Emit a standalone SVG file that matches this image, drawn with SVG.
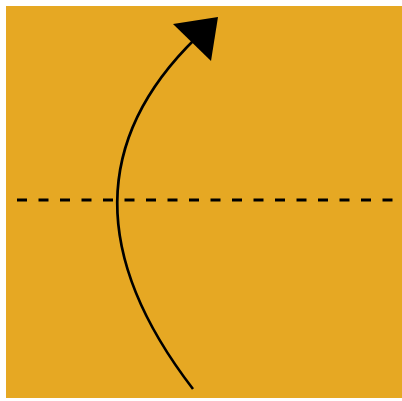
<svg xmlns="http://www.w3.org/2000/svg" width="402" height="401" viewBox="0 0 402 401">
<style>
.paper{fill:#E6A823}
.fold{stroke:#000;stroke-width:3;stroke-dasharray:10 11.5;fill:none}
.arrow{stroke:#000;stroke-width:2.6;fill:none}
</style>
<rect x="0" y="0" width="402" height="401" fill="#FFFFFF"/>
<g id="paper"><rect class="paper" x="6" y="6" width="396" height="392"/></g>
<g id="connectors">
<line class="fold" x1="17" y1="200" x2="394" y2="200"/>
<path class="arrow" d="M193,389 Q40,190 196,38"/>
<polygon points="173,24 218,17 211,61" fill="#000"/>
</g>
</svg>
